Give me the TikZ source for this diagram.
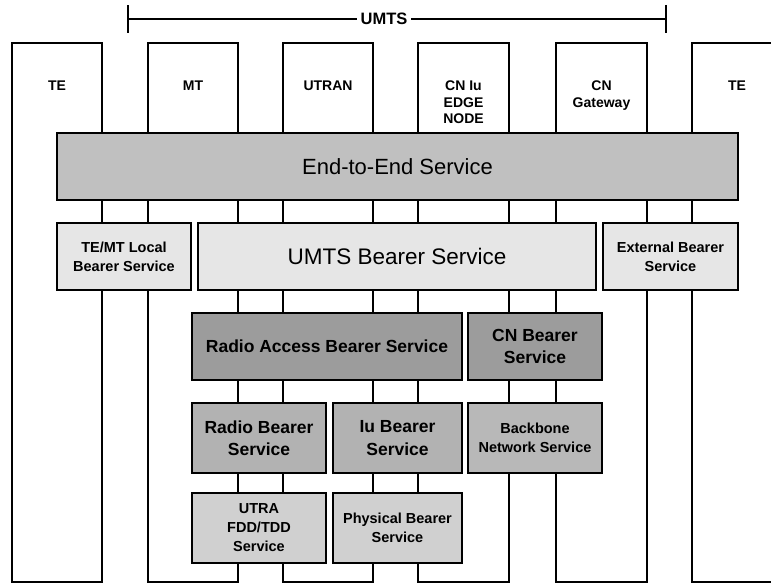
\documentclass[tikz,border=0pt]{standalone}
\usepackage{fontspec}
\setmainfont{Liberation Sans}
\usepackage{xcolor}
\usetikzlibrary{arrows.meta, positioning}

\definecolor{etegray}{HTML}{C0C0C0}
\definecolor{umtsgray}{HTML}{E6E6E6}
\definecolor{rabgray}{HTML}{9C9C9C}
\definecolor{rbgray}{HTML}{B2B2B2}
\definecolor{bbgray}{HTML}{B8B8B8}
\definecolor{utragray}{HTML}{D0D0D0}

\begin{document}
\begin{tikzpicture}[
    x=1pt, y=-1pt,
    line width=1.6pt,
    column/.style={draw, rectangle, anchor=north, minimum width=90pt, minimum height=539pt, inner sep=0pt, outer sep=0pt},
    collabel/.style={anchor=north, align=center, inner sep=0pt, font=\bfseries\fontsize{14}{16.5}\selectfont},
    svc/.style={draw, rectangle, align=center, inner sep=0pt, outer sep=0pt, minimum height=67pt},
    bigtext/.style={font=\fontsize{22}{24}\selectfont},
    midtext/.style={font=\bfseries\fontsize{17.5}{22.5}\selectfont},
    smalltext/.style={font=\bfseries\fontsize{14.5}{19}\selectfont}
]
\useasboundingbox (0,0) rectangle (771,583);
\clip (0,0) rectangle (771,583);

% Columns
\node[column] (te1) at (57,43) {};
\node[column] (mt) at (193,43) {};
\node[column] (utran) at (328,43) {};
\node[column, minimum width=91pt] (cniu) at (463.5,43) {};
\node[column, minimum width=91pt] (cngw) at (601.5,43) {};
\node[column, minimum width=120pt] (te2) at (752,43) {};

\node[collabel] (te1lbl) at (57,80) {TE};
\node[collabel] (mtlbl) at (193,80) {MT};
\node[collabel] (utranlbl) at (328,80) {UTRAN};
\node[collabel] (cniulbl) at (463.5,80) {CN Iu\\EDGE\\NODE};
\node[collabel] (cngwlbl) at (601.5,80) {CN\\Gateway};
\node[collabel] (te2lbl) at (737,80) {TE};

% UMTS span
\node[font=\bfseries\fontsize{16.5}{18}\selectfont, inner sep=3pt] (umts) at (384,19) {UMTS};
\coordinate (umtsL) at (127,19);
\coordinate (umtsR) at (667,19);
\draw[{Bar[width=28pt]}-] (umtsL) -- (umts);
\draw[-{Bar[width=28pt]}] (umts) -- (umtsR);

% Services
\node[svc, fill=etegray, minimum width=681pt, bigtext] (e2e) at (397.5,166.5) {End-to-End Service};
\node[svc, fill=umtsgray, minimum width=134pt, smalltext] (local) at (124,256.5) {TE/MT Local\\Bearer Service};
\node[svc, fill=umtsgray, minimum width=398pt, font=\fontsize{22.5}{24}\selectfont] (ubs) at (397,256.5) {UMTS Bearer Service};
\node[svc, fill=umtsgray, minimum width=135pt, smalltext] (ext) at (670.5,256.5) {External Bearer\\Service};

\node[svc, fill=rabgray, minimum width=270pt, midtext] (rab) at (327,346.5) {Radio Access Bearer Service};
\node[svc, fill=rabgray, minimum width=134pt, midtext, right=6pt of rab] (cnb) {CN Bearer\\Service};

\node[svc, fill=rbgray, minimum width=134pt, minimum height=70pt, midtext] (rb) at (259,438) {Radio Bearer\\Service};
\node[svc, fill=rbgray, minimum width=129pt, minimum height=70pt, midtext, right=7pt of rb] (iub) {Iu Bearer\\Service};
\node[svc, fill=bbgray, minimum width=134pt, minimum height=70pt, smalltext] (bb) at (535,438) {Backbone\\Network Service};

\node[svc, fill=utragray, minimum width=134pt, minimum height=70pt, smalltext] (utra) at (259,528) {UTRA\\FDD/TDD\\Service};
\node[svc, fill=utragray, minimum width=129pt, minimum height=70pt, smalltext, right=7pt of utra] (phys) {Physical Bearer\\Service};

\end{tikzpicture}
\end{document}
